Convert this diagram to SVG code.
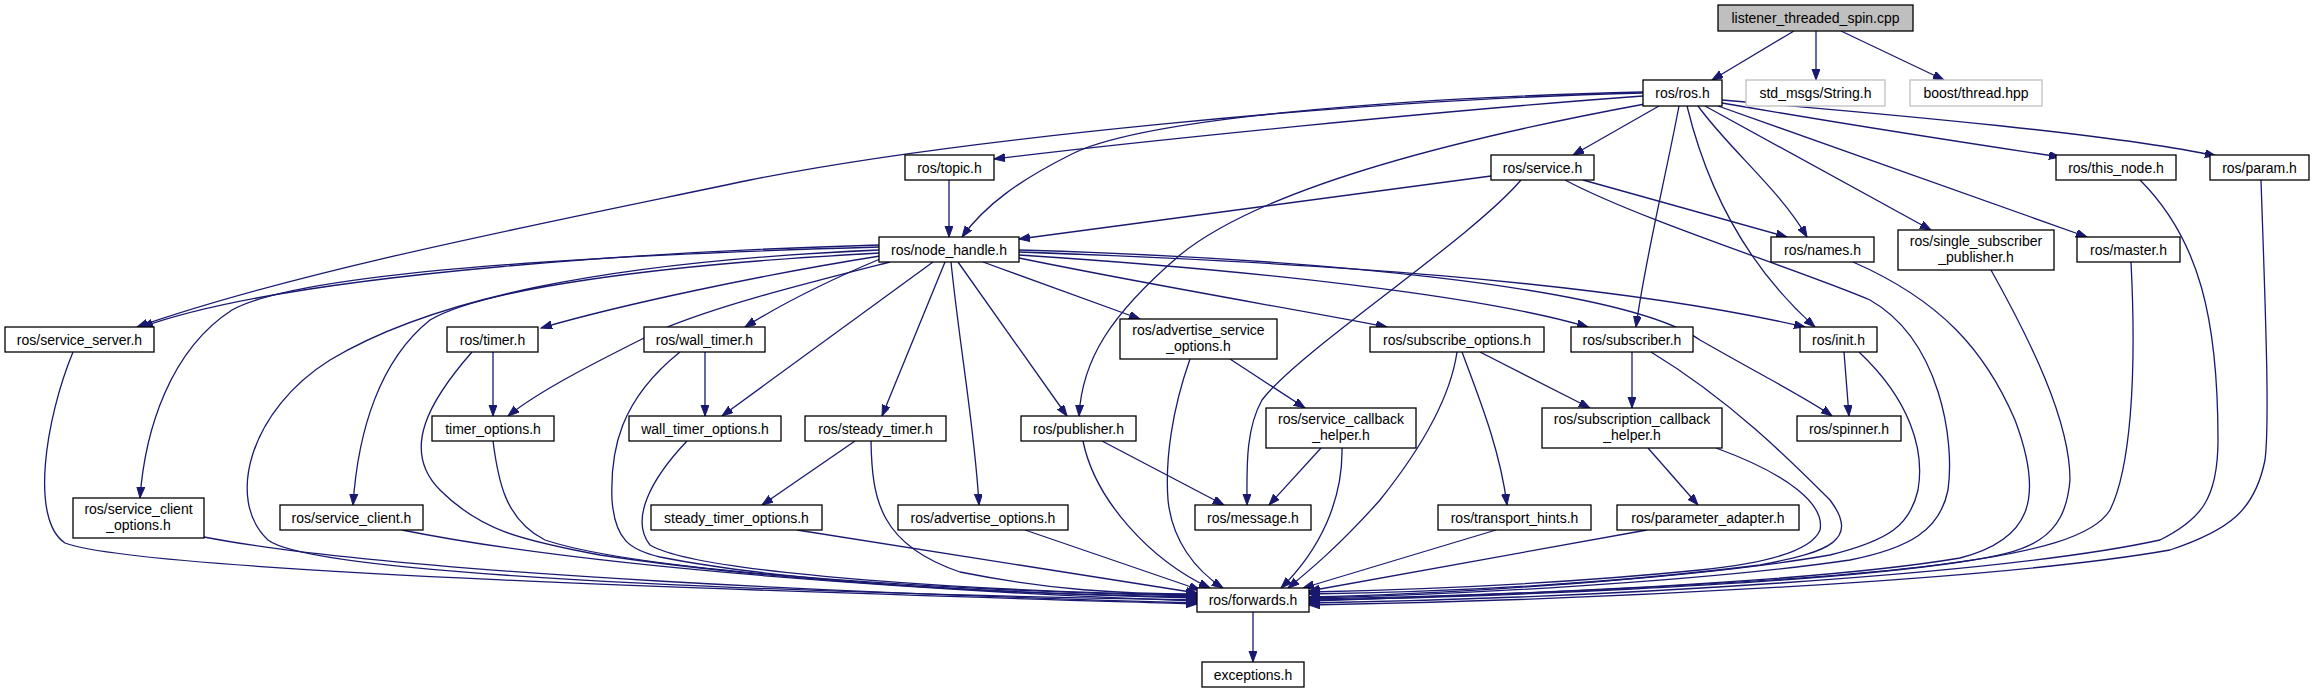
<svg xmlns="http://www.w3.org/2000/svg" width="2315" height="693" viewBox="0 0 2315 693">
<style>
.n rect{fill:#ffffff;stroke:#000000;stroke-width:1.3}
.root rect{fill:#bfbfbf}
.ext rect{stroke:#bfbfbf}
text{font-family:"Liberation Sans",Arial,sans-serif;font-size:14px;fill:#000000;text-anchor:middle}
#edges path{fill:none;stroke:#191970;stroke-width:1.3;marker-end:url(#ah)}
</style>
<defs>
<marker id="ah" markerUnits="userSpaceOnUse" markerWidth="12" markerHeight="9" refX="11" refY="4" orient="auto">
<path d="M0,0 L11,4 L0,8 z" fill="#191970" stroke="#191970" stroke-width="1"/>
</marker>
</defs>
<rect width="2315" height="693" fill="#ffffff"/>
<g id="edges">
<path d="M1794,31 L1712,80"/>
<path d="M1816,31 L1816,80"/>
<path d="M1841,31 L1944,80"/>
<path d="M1643,93 C1350,100 950,140 750,180 C550,222 300,270 137,327"/>
<path d="M1643,96 C1450,110 1150,140 994,159"/>
<path d="M1643,92 C1400,98 1140,118 1070,155 C1020,180 985,205 962,237"/>
<path d="M1645,104 C1450,140 1260,190 1180,255 C1110,315 1082,360 1079,416"/>
<path d="M1659,106 L1573,155"/>
<path d="M1698,106 C1730,150 1780,190 1807,237"/>
<path d="M1679,106 C1665,180 1645,260 1636,327"/>
<path d="M1687,106 C1705,180 1740,260 1815,327"/>
<path d="M1705,106 L1931,230"/>
<path d="M1718,106 L2087,237"/>
<path d="M1722,103 C1850,125 1980,145 2060,157"/>
<path d="M1722,100 C1900,115 2120,135 2216,156"/>
<path d="M949,180 L949,237"/>
<path d="M1491,176 L1019,239"/>
<path d="M1583,180 L1787,237"/>
<path d="M1521,180 C1470,240 1300,350 1262,400 C1245,430 1247,470 1247,505"/>
<path d="M1565,180 C1640,220 1800,270 1870,300 C1940,340 1955,440 1948,490 C1940,530 1910,548 1850,560 C1700,582 1450,595 1309,598"/>
<path d="M879,245 C700,250 300,270 142,327"/>
<path d="M879,247 C600,255 300,272 232,310 C170,350 145,430 140,498"/>
<path d="M879,250 C600,262 430,300 330,360 C250,410 225,500 268,540 C320,580 900,595 1197,600"/>
<path d="M880,253 C650,265 480,290 430,320 C380,360 358,430 353,505"/>
<path d="M880,256 C760,275 620,305 541,328"/>
<path d="M890,262 C800,285 720,305 660,330 C600,360 540,390 508,416"/>
<path d="M880,259 C830,280 780,305 745,327"/>
<path d="M933,262 L722,416"/>
<path d="M945,262 L882,416"/>
<path d="M951,262 C960,350 975,430 979,505"/>
<path d="M958,262 L1067,416"/>
<path d="M983,262 L1140,319"/>
<path d="M1019,258 C1150,285 1300,310 1387,327"/>
<path d="M1019,255 C1250,270 1480,295 1588,327"/>
<path d="M1019,252 C1300,262 1600,280 1805,327"/>
<path d="M1019,250 C1300,258 1620,285 1700,340 C1770,380 1810,400 1832,416"/>
<path d="M493,352 L493,416"/>
<path d="M472,352 C430,400 400,450 440,490 C480,530 520,540 600,555 C800,585 1050,595 1197,598"/>
<path d="M493,441 C498,480 505,520 545,540 C650,575 1000,592 1197,596"/>
<path d="M705,352 L705,416"/>
<path d="M680,352 C620,400 610,450 612,500 C615,540 630,550 660,557 C800,585 1050,595 1197,597"/>
<path d="M687,441 C650,480 630,520 650,545 C700,575 1000,592 1197,595"/>
<path d="M855,441 L762,505"/>
<path d="M871,441 C872,500 880,545 960,572 C1050,590 1120,594 1197,594"/>
<path d="M797,530 L1197,593"/>
<path d="M1025,530 L1200,590"/>
<path d="M1102,441 L1224,505"/>
<path d="M1083,441 C1095,500 1150,560 1210,588"/>
<path d="M1190,359 C1172,410 1165,460 1168,500 C1172,540 1195,570 1223,588"/>
<path d="M1230,359 L1305,408"/>
<path d="M1321,448 L1269,505"/>
<path d="M1342,448 C1343,500 1320,550 1281,588"/>
<path d="M1480,352 L1590,408"/>
<path d="M1462,352 C1480,400 1500,450 1507,505"/>
<path d="M1457,352 C1450,400 1420,450 1380,500 C1340,545 1310,570 1288,588"/>
<path d="M1632,352 L1632,408"/>
<path d="M1651,352 C1730,400 1790,460 1830,500 C1860,540 1830,552 1760,565 C1600,585 1450,592 1309,594"/>
<path d="M1844,352 L1849,416"/>
<path d="M1859,352 C1910,400 1925,450 1918,490 C1910,525 1890,540 1830,555 C1700,578 1450,594 1309,597"/>
<path d="M1648,448 L1698,505"/>
<path d="M1716,448 C1790,475 1825,505 1820,530 C1810,555 1750,565 1700,570 C1550,585 1400,590 1309,592"/>
<path d="M1496,530 L1303,588"/>
<path d="M1647,530 L1309,591"/>
<path d="M1853,262 C1940,300 1985,350 2015,420 C2045,500 2030,540 1960,558 C1800,585 1450,597 1309,599"/>
<path d="M1991,270 C2030,340 2070,420 2070,480 C2065,540 2030,552 1960,562 C1800,586 1450,598 1309,600"/>
<path d="M2131,262 C2137,380 2130,470 2110,510 C2080,560 1900,582 1309,601"/>
<path d="M2140,180 C2200,240 2218,320 2218,440 C2218,500 2200,520 2160,540 C2000,575 1600,598 1309,603"/>
<path d="M2261,180 C2265,300 2270,420 2265,460 C2255,510 2230,530 2170,550 C2000,580 1600,600 1309,605"/>
<path d="M73,352 C45,420 30,520 65,543 C150,575 900,595 1197,604"/>
<path d="M204,537 C400,575 900,595 1197,603"/>
<path d="M402,530 C600,570 950,592 1197,601"/>
<path d="M1253,612 L1253,662"/>
</g>
<g id="n_cpp" class="n root"><rect x="1718" y="5" width="195" height="26"/><text x="1815.5" y="23">listener_threaded_spin.cpp</text></g>
<g id="n_ros" class="n"><rect x="1643" y="80" width="79" height="26"/><text x="1682.5" y="98">ros/ros.h</text></g>
<g id="n_string" class="n ext"><rect x="1746" y="80" width="139" height="26"/><text x="1815.5" y="98">std_msgs/String.h</text></g>
<g id="n_boost" class="n ext"><rect x="1910" y="80" width="132" height="26"/><text x="1976" y="98">boost/thread.hpp</text></g>
<g id="n_topic" class="n"><rect x="905" y="155" width="89" height="25"/><text x="949.5" y="172.5">ros/topic.h</text></g>
<g id="n_service" class="n"><rect x="1491" y="155" width="103" height="25"/><text x="1542.5" y="172.5">ros/service.h</text></g>
<g id="n_this_node" class="n"><rect x="2056" y="155" width="120" height="25"/><text x="2116" y="172.5">ros/this_node.h</text></g>
<g id="n_param" class="n"><rect x="2210" y="155" width="99" height="25"/><text x="2259.5" y="172.5">ros/param.h</text></g>
<g id="n_node_handle" class="n"><rect x="879" y="237" width="140" height="25"/><text x="949" y="254.5">ros/node_handle.h</text></g>
<g id="n_names" class="n"><rect x="1771" y="237" width="103" height="25"/><text x="1822.5" y="254.5">ros/names.h</text></g>
<g id="n_single" class="n"><rect x="1898" y="230" width="156" height="40"/><text x="1976" y="246">ros/single_subscriber</text><text x="1976" y="262">_publisher.h</text></g>
<g id="n_master" class="n"><rect x="2077" y="237" width="103" height="25"/><text x="2128.5" y="254.5">ros/master.h</text></g>
<g id="n_service_server" class="n"><rect x="5" y="327" width="149" height="25"/><text x="79.5" y="344.5">ros/service_server.h</text></g>
<g id="n_timer" class="n"><rect x="447" y="327" width="91" height="25"/><text x="492.5" y="344.5">ros/timer.h</text></g>
<g id="n_wall_timer" class="n"><rect x="644" y="327" width="121" height="25"/><text x="704.5" y="344.5">ros/wall_timer.h</text></g>
<g id="n_adv_srv_opts" class="n"><rect x="1120" y="319" width="157" height="40"/><text x="1198.5" y="335">ros/advertise_service</text><text x="1198.5" y="351">_options.h</text></g>
<g id="n_sub_opts" class="n"><rect x="1370" y="327" width="174" height="25"/><text x="1457" y="344.5">ros/subscribe_options.h</text></g>
<g id="n_subscriber" class="n"><rect x="1571" y="327" width="122" height="25"/><text x="1632" y="344.5">ros/subscriber.h</text></g>
<g id="n_init" class="n"><rect x="1800" y="327" width="77" height="25"/><text x="1838.5" y="344.5">ros/init.h</text></g>
<g id="n_timer_options" class="n"><rect x="432" y="416" width="122" height="25"/><text x="493" y="433.5">timer_options.h</text></g>
<g id="n_wall_timer_options" class="n"><rect x="629" y="416" width="152" height="25"/><text x="705" y="433.5">wall_timer_options.h</text></g>
<g id="n_steady_timer" class="n"><rect x="805" y="416" width="141" height="25"/><text x="875.5" y="433.5">ros/steady_timer.h</text></g>
<g id="n_publisher" class="n"><rect x="1021" y="416" width="115" height="25"/><text x="1078.5" y="433.5">ros/publisher.h</text></g>
<g id="n_srv_cb_helper" class="n"><rect x="1266" y="408" width="150" height="40"/><text x="1341" y="424">ros/service_callback</text><text x="1341" y="440">_helper.h</text></g>
<g id="n_sub_cb_helper" class="n"><rect x="1542" y="408" width="180" height="40"/><text x="1632" y="424">ros/subscription_callback</text><text x="1632" y="440">_helper.h</text></g>
<g id="n_spinner" class="n"><rect x="1797" y="416" width="104" height="25"/><text x="1849" y="433.5">ros/spinner.h</text></g>
<g id="n_srv_client_opts" class="n"><rect x="73" y="498" width="131" height="40"/><text x="138.5" y="514">ros/service_client</text><text x="138.5" y="530">_options.h</text></g>
<g id="n_service_client" class="n"><rect x="280" y="505" width="143" height="25"/><text x="351.5" y="522.5">ros/service_client.h</text></g>
<g id="n_steady_timer_options" class="n"><rect x="651" y="505" width="171" height="25"/><text x="736.5" y="522.5">steady_timer_options.h</text></g>
<g id="n_adv_options" class="n"><rect x="898" y="505" width="170" height="25"/><text x="983" y="522.5">ros/advertise_options.h</text></g>
<g id="n_message" class="n"><rect x="1195" y="505" width="116" height="25"/><text x="1253" y="522.5">ros/message.h</text></g>
<g id="n_transport_hints" class="n"><rect x="1438" y="505" width="153" height="25"/><text x="1514.5" y="522.5">ros/transport_hints.h</text></g>
<g id="n_param_adapter" class="n"><rect x="1617" y="505" width="182" height="25"/><text x="1708" y="522.5">ros/parameter_adapter.h</text></g>
<g id="n_forwards" class="n"><rect x="1197" y="588" width="112" height="24"/><text x="1253" y="605">ros/forwards.h</text></g>
<g id="n_exceptions" class="n"><rect x="1202" y="662" width="102" height="25"/><text x="1253" y="679.5">exceptions.h</text></g>
</svg>
